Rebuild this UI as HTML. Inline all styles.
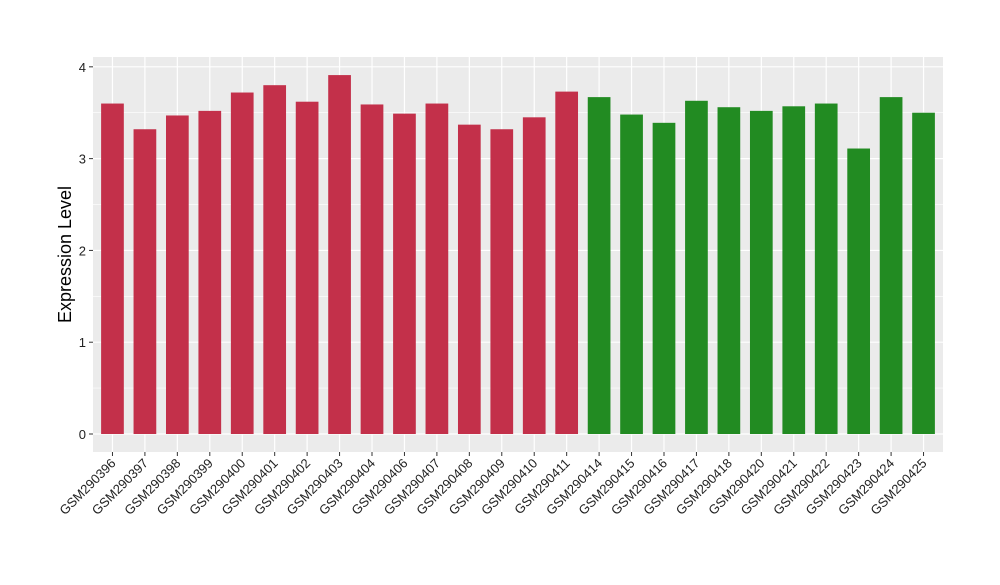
<!DOCTYPE html>
<html><head><meta charset="utf-8"><style>
body{margin:0;background:#fff;font-family:"Liberation Sans",sans-serif;}
</style></head><body>
<svg id="chart" width="1000" height="580" xmlns="http://www.w3.org/2000/svg"></svg>
<script>
const categories=["GSM290396","GSM290397","GSM290398","GSM290399","GSM290400","GSM290401","GSM290402","GSM290403","GSM290404","GSM290406","GSM290407","GSM290408","GSM290409","GSM290410","GSM290411","GSM290414","GSM290415","GSM290416","GSM290417","GSM290418","GSM290420","GSM290421","GSM290422","GSM290423","GSM290424","GSM290425"];
const values=[3.60,3.32,3.47,3.52,3.72,3.80,3.62,3.91,3.59,3.49,3.60,3.37,3.32,3.45,3.73,3.67,3.48,3.39,3.63,3.56,3.52,3.57,3.60,3.11,3.67,3.50];
const groups=[0,0,0,0,0,0,0,0,0,0,0,0,0,0,0,1,1,1,1,1,1,1,1,1,1,1];
const yTicks=[0,1,2,3,4];
const colors=["#C3304A","#228B22"];
const NS="http://www.w3.org/2000/svg";
const svg=document.getElementById('chart');
const L=93,R=943,T=57,B=452;
const yMin=-0.196,yMax=4.107;
const y=v=>B-(v-yMin)/(yMax-yMin)*(B-T);
const n=categories.length;
const step=(R-L)/(n-1+1.2);
const x=i=>L+(0.6+i)*step;
function mk(tag,attrs,parent){const e=document.createElementNS(NS,tag);for(const k in attrs)e.setAttribute(k,attrs[k]);(parent||svg).appendChild(e);return e;}
const panel=mk('rect',{x:L,y:T,width:R-L,height:B-T,fill:'#EBEBEB'});


for(let k=0;k<yTicks.length-1;k++){const m=(yTicks[k]+yTicks[k+1])/2;const g=mk('line',{x1:L,x2:R,y1:y(m),y2:y(m),stroke:'#fff','stroke-width':0.6});

}
yTicks.forEach(t=>{const g=mk('line',{x1:L,x2:R,y1:y(t),y2:y(t),stroke:'#fff','stroke-width':1.2});


const tk=mk('line',{x1:L-4,x2:L,y1:y(t),y2:y(t),stroke:'#333','stroke-width':1});


const lb=mk('text',{x:L-7,y:y(t)+5,'text-anchor':'end','font-size':13,fill:'#222'});lb.textContent=t;

});
categories.forEach((c,i)=>{const g=mk('line',{x1:x(i),x2:x(i),y1:T,y2:B,stroke:'#fff','stroke-width':1.2});

});
const bw=step*0.7;
categories.forEach((c,i)=>{const b=mk('rect',{x:x(i)-bw/2,y:y(values[i]),width:bw,height:y(0)-y(values[i]),fill:colors[groups[i]]});


const tk=mk('line',{x1:x(i),x2:x(i),y1:B,y2:B+4,stroke:'#333','stroke-width':1});


const lb=mk('text',{x:x(i)+4,y:B+12,'text-anchor':'end','font-size':13,fill:'#222',transform:`rotate(-45 ${x(i)+4} ${B+12})`});lb.textContent=c;

});
const yt=mk('text',{x:71,y:(T+B)/2,'text-anchor':'middle','font-size':18,fill:'#000',transform:`rotate(-90 71 ${(T+B)/2})`});yt.textContent='Expression Level';


</script>
</body></html>
